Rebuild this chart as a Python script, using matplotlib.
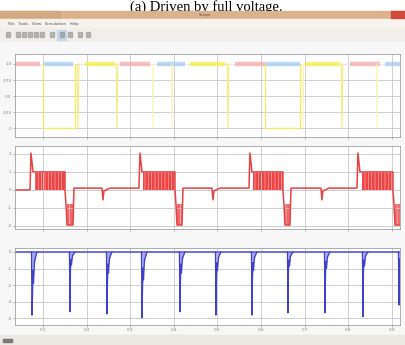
import matplotlib.pyplot as plt
from matplotlib.patches import Rectangle, Polygon

W, H = 405, 345

# shared time axis (s)
x_lim = (0.0358, 0.919)
x_ticks = [0.1, 0.2, 0.3, 0.4, 0.5, 0.6, 0.7, 0.8, 0.9]
x_tick_labels = ['0.1', '0.2', '0.3', '0.4', '0.5', '0.6', '0.7', '0.8', '0.9']

# panel 1: three switching signals (level 1 segments that show on top)
pink_on = [(0.0358, 0.0931), (0.2766, 0.3455), (0.5404, 0.6093), (0.8042, 0.8731)]
blue_on = [(0.1000, 0.1688), (0.3615, 0.4257), (0.6093, 0.6896), (0.8845, 0.9190)]
yellow_on = [(0.1963, 0.2652), (0.4372, 0.5175), (0.7010, 0.7813)]
yellow_off = [(0.1000, 0.1734), (0.6093, 0.6896)]
yellow_pulses = [0.1803, 0.2698, 0.5244, 0.7859]
yellow_faint = [0.3523, 0.3959, 0.6964, 0.8662]
p1_ticks = [0, 0.25, 0.5, 0.75, 1.0]

# panel 2: red waveform
red_t = [0.0358, 0.0702, 0.0725, 0.0771, 0.1505, 0.1505, 0.1528, 0.1551, 0.1688, 0.1711,
         0.2353, 0.2376, 0.2399, 0.2537, 0.3202, 0.3225, 0.3271, 0.4028, 0.4028, 0.4051,
         0.4074, 0.4189, 0.4212, 0.4877, 0.4900, 0.4923, 0.5060, 0.5725, 0.5748, 0.5794,
         0.6505, 0.6505, 0.6528, 0.6551, 0.6666, 0.6689, 0.7377, 0.7400, 0.7423, 0.7561,
         0.8203, 0.8225, 0.8271, 0.9029, 0.9029, 0.9052, 0.9075, 0.9190]
red_v = [0.0, 0.0, 2.05, 1.0, 1.0, 0.0, -0.8, -1.95, -1.95, 0.1,
         0.1, -0.55, -0.05, 0.1, 0.1, 2.05, 1.0, 1.0, 0.0, -0.8,
         -1.95, -1.95, 0.1, 0.1, -0.55, -0.05, 0.1, 0.1, 2.05, 1.0,
         1.0, 0.0, -0.8, -1.95, -1.95, 0.1, 0.1, -0.55, -0.05, 0.1,
         0.1, 2.05, 1.0, 1.0, 0.0, -0.8, -1.95, -1.95]
chop_on = [(0.0816, 0.1505), (0.3294, 0.4028), (0.5817, 0.6505), (0.8317, 0.9029)]
chop_neg = [(0.1551, 0.1688), (0.4074, 0.4189), (0.6551, 0.6666), (0.9075, 0.9190)]
p2_ticks = [-2, -1, 0, 1, 2]

# panel 3: blue spikes
spike_t = [0.0748, 0.1619, 0.2468, 0.3271, 0.4142, 0.4968, 0.5794, 0.6620, 0.7469, 0.8340, 0.9166]
spike_depth = [-3.8, -3.6, -3.73, -3.97, -3.6, -3.8, -3.8, -3.67, -3.67, -3.9, -3.2]
spike_tail = [-2.7, -1.1, -1.8, -2.4, -1.8, -1.6, -1.6, -1.2, -1.4, -1.2, -1.0]
p3_ticks = [-4, -3, -2, -1, 0]

plt.rcParams['hatch.linewidth'] = 0.5
fig = plt.figure(figsize=(W / 100, H / 100), dpi=100, facecolor='white')

# window chrome drawn in pixel coords
bg = fig.add_axes([0, 0, 1, 1], zorder=-5)
bg.set_xlim(0, W)
bg.set_ylim(H, 0)
bg.axis('off')
bg.text(206, 10.5, '(a) Driven by full voltage.', family='Liberation Serif',
        fontsize=10.5, ha='center', va='baseline', color='black', zorder=1)
bg.add_patch(Rectangle((0, 11), W, 8, color='#dcb28a', zorder=2))
bg.add_patch(Rectangle((0, 11), 60, 8, color='#d6a880', zorder=2))
bg.text(205, 15, 'Scope', fontsize=3, ha='center', va='center', color='#705030', zorder=3)
bg.add_patch(Rectangle((391, 11), 14, 7, color='#d04a3c', zorder=3))
bg.add_patch(Rectangle((0, 19), W, 9, color='#f6f3ee', zorder=2))
bg.text(8, 23.5, 'File   Tools   View   Simulation   Help', fontsize=2.8,
        va='center', color='#505050', zorder=3)
bg.add_patch(Rectangle((0, 28), W, 14, color='#f2efea', zorder=2))
icon_x = [6, 16, 22, 28, 34, 40, 50, 60, 68, 78, 86]
for ix in icon_x:
    bg.add_patch(Rectangle((ix, 32), 4, 5, color='#8a8a8a', alpha=0.55, zorder=3))
bg.add_patch(Rectangle((57, 30), 9, 10, color='#c8d8ec', zorder=2.5))
bg.add_patch(Rectangle((0, 42), W, 293, color='#f7f7f7', zorder=2))
bg.add_patch(Rectangle((0, 335), W, 10, color='#ebe7e1', zorder=2))
bg.add_patch(Rectangle((3, 339), 9, 3, color='#7a7a7a', zorder=3))


def make_ax(top, bottom, ylim, yticks, show_x):
    ax = fig.add_axes([15 / W, 1 - bottom / H, 385 / W, (bottom - top) / H])
    ax.set_facecolor('white')
    ax.set_xlim(*x_lim)
    ax.set_ylim(*ylim)
    ax.set_xticks(x_ticks)
    ax.set_yticks(yticks)
    ax.set_yticklabels([str(v) for v in yticks])
    if show_x:
        ax.set_xticklabels(x_tick_labels)
    else:
        ax.set_xticklabels([])
    ax.tick_params(labelsize=3, colors='#808080', length=1.5, width=0.4, pad=1)
    ax.grid(True, color='#c8c8c8', linewidth=0.6)
    for s in ax.spines.values():
        s.set_color('#a0a0a0')
        s.set_linewidth(0.6)
    return ax


# panel 1
ax1 = make_ax(54, 137, (-0.14, 1.156), p1_ticks, False)
ax1.plot(x_lim, [1, 1], color='#ece6f2', lw=0.8)
for a, b in pink_on:
    ax1.plot([a, b], [1.0, 1.0], color='#f5aaaa', lw=3.2, alpha=0.75, solid_capstyle='butt')
for a, b in blue_on:
    ax1.plot([a, b], [1.0, 1.0], color='#a4ccf2', lw=3.2, alpha=0.75, solid_capstyle='butt')
for a, b in yellow_on:
    ax1.plot([a, b], [1.0, 1.0], color='#f2f050', lw=3.2, alpha=0.8, solid_capstyle='butt')
for a, b in yellow_off:
    ax1.plot([a, a, b, b], [1, 0, 0, 1], color='#f0ec6a', lw=1.0)
for p in yellow_pulses:
    ax1.plot([p - 0.002, p, p + 0.002], [1, 0, 1], color='#f2ec80', lw=0.8)
for p in yellow_faint:
    ax1.plot([p - 0.002, p, p + 0.002], [1, 0, 1], color='#f8f4b8', lw=0.6)

# panel 2
ax2 = make_ax(146, 229, (-2.17, 2.44), p2_ticks, False)
for a, b in chop_on:
    ax2.fill_between([a, b], 0, 1, facecolor='#f04444', edgecolor='#ffa8a8',
                     hatch='|||||', linewidth=0)
for a, b in chop_neg:
    ax2.fill_between([a, b], -1.95, -0.8, facecolor='#f06a6a', edgecolor='#ffb8b8',
                     hatch='|||', linewidth=0)
ax2.plot(red_t, red_v, color='#e54444', lw=1.1)

# panel 3
ax3 = make_ax(248, 325, (-4.4, 0.24), p3_ticks, True)
ax3.plot(x_lim, [0, 0], color='#5050dc', lw=1.1)
w = 0.0115
for t0, d, tail in zip(spike_t, spike_depth, spike_tail):
    ax3.add_patch(Polygon([(t0, 0), (t0 + 0.0012, tail), (t0 + 0.0035, tail * 0.5), (t0 + w, 0)],
                          closed=True, facecolor='#9090f0', edgecolor='none', alpha=0.8))
    ax3.plot([t0 - 0.0012, t0, t0 + 0.0012, t0 + 0.0023, t0 + 0.0035, t0 + 0.0058, t0 + w],
             [0, d, tail, tail * 0.4, tail * 0.7, tail * 0.2, 0], color='#4040cc', lw=0.9)

fig.savefig('out.png', dpi=100)
